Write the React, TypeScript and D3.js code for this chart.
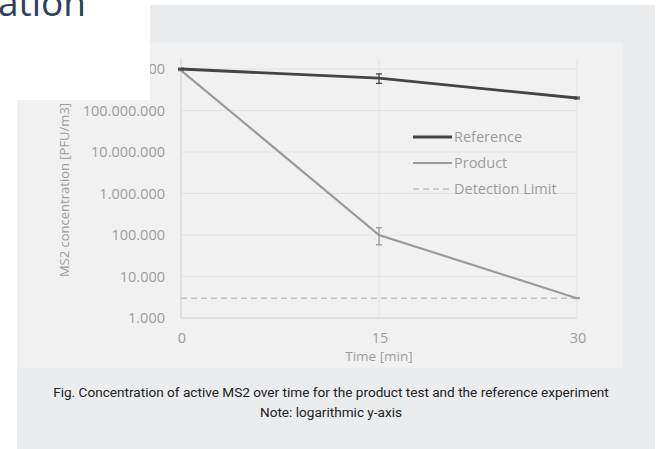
import React, { useEffect, useRef } from 'react'
import { select, scaleLinear, scaleLog, line, formatLocale } from 'd3'

// values
const times = [0, 15, 30]
const referenceValues = [1e9, 6e8, 2e8]
const referenceLow = [9.6e8, 4.5e8, 1.9e8]
const referenceHigh = [1.04e9, 7.6e8, 2.1e8]
const productValues = [9.3e8, 1e5, 3000]
const productLow = [9.1e8, 5.8e4, 2950]
const productHigh = [9.5e8, 1.5e5, 3050]
const detectionLimit = 3000
const yTicks = [1e3, 1e4, 1e5, 1e6, 1e7, 1e8, 1e9]
const xTicks = [0, 15, 30]
const legendLabels = ['Reference', 'Product', 'Detection Limit']

const W = 663, H = 449

function App() {
  const ref = useRef<SVGSVGElement>(null)

  useEffect(() => {
    const svg = select(ref.current)
    svg.selectAll('*').remove()

    const fmt = formatLocale({ decimal: ',', thousands: '.', grouping: [3], currency: ['', ''] }).format(',d')

    const x = scaleLinear().domain([0, 30]).range([181, 577])
    const y = scaleLog().domain([1000, 1e9]).range([318, 69])
    const top = 59
    const labelFont = 'Open Sans'
    const labelColor = '#9d9d9d'

    // panels
    svg.append('rect').attr('width', W).attr('height', H).attr('fill', '#ffffff')
    svg.append('rect').attr('x', 17).attr('y', 5).attr('width', 638).attr('height', H - 5).attr('fill', '#ebecee')
    svg.append('rect').attr('x', 17).attr('y', 43).attr('width', 606).attr('height', 325).attr('fill', '#f1f1f1')

    const g = svg.append('g')

    // grid
    g.selectAll('.hgrid').data(yTicks).enter().append('line')
      .attr('x1', x(0)).attr('x2', x(30))
      .attr('y1', d => y(d)).attr('y2', d => y(d))
      .style('stroke', '#e2e2e2').style('stroke-width', 1)
    g.selectAll('.vgrid').data(xTicks.slice(1)).enter().append('line')
      .attr('x1', d => x(d)).attr('x2', d => x(d))
      .attr('y1', top).attr('y2', y(1000))
      .style('stroke', '#e2e2e2').style('stroke-width', 1)

    // axes
    g.append('line').attr('x1', x(0)).attr('x2', x(0)).attr('y1', top).attr('y2', y(1000))
      .style('stroke', '#cfcfcf')
    g.append('line').attr('x1', x(0)).attr('x2', x(30)).attr('y1', y(1000)).attr('y2', y(1000))
      .style('stroke', '#d6d6d6')

    g.selectAll('.ylab').data(yTicks).enter().append('text')
      .attr('x', 165).attr('y', d => y(d)).attr('dy', '0.35em')
      .attr('text-anchor', 'end')
      .style('font-family', labelFont).style('font-size', '14.5px').style('fill', labelColor)
      .text(d => fmt(d))
    g.selectAll('.xlab').data(xTicks).enter().append('text')
      .attr('x', d => x(d) + 1).attr('y', 343)
      .attr('text-anchor', 'middle')
      .style('font-family', labelFont).style('font-size', '14.5px').style('fill', labelColor)
      .text(d => d)

    g.append('text').attr('x', x(15)).attr('y', 361).attr('text-anchor', 'middle')
      .style('font-family', labelFont).style('font-size', '13.5px').style('fill', labelColor)
      .text('Time [min]')
    g.append('text').attr('transform', 'translate(69,190) rotate(-90)').attr('text-anchor', 'middle')
      .style('font-family', labelFont).style('font-size', '13px').style('fill', labelColor)
      .text('MS2 concentration [PFU/m3]')

    // detection limit
    g.append('line').attr('x1', x(0)).attr('x2', x(30))
      .attr('y1', y(detectionLimit)).attr('y2', y(detectionLimit))
      .style('stroke', '#c4c4c4').style('stroke-width', 1.5).style('stroke-dasharray', '6,4')

    const mk = line<number>().x((_, i) => x(times[i])).y(d => y(d))

    const series = [
      { vals: productValues, lo: productLow, hi: productHigh, color: '#9a9a9a', w: 2.2 },
      { vals: referenceValues, lo: referenceLow, hi: referenceHigh, color: '#444444', w: 2.8 },
    ]
    series.forEach(s => {
      g.append('path').attr('d', mk(s.vals))
        .style('fill', 'none').style('stroke', s.color).style('stroke-width', s.w)
      const eb = g.append('g')
      times.forEach((t, i) => {
        eb.append('line').attr('x1', x(t)).attr('x2', x(t)).attr('y1', y(s.lo[i])).attr('y2', y(s.hi[i]))
          .style('stroke', s.color).style('stroke-width', 1.3)
        ;[s.lo[i], s.hi[i]].forEach(v => {
          eb.append('line').attr('x1', x(t) - 3).attr('x2', x(t) + 3).attr('y1', y(v)).attr('y2', y(v))
            .style('stroke', s.color).style('stroke-width', 1.3)
        })
      })
    })

    // legend
    const legendStyles = [
      { color: '#444444', w: 3, dash: null },
      { color: '#9a9a9a', w: 2, dash: null },
      { color: '#c4c4c4', w: 1.5, dash: '6,4' },
    ]
    const lg = g.append('g')
    legendLabels.forEach((lab, i) => {
      const ly = 137 + i * 26
      const l = lg.append('line').attr('x1', 413).attr('x2', 452).attr('y1', ly).attr('y2', ly)
        .style('stroke', legendStyles[i].color).style('stroke-width', legendStyles[i].w)
      if (legendStyles[i].dash) l.style('stroke-dasharray', legendStyles[i].dash)
      lg.append('text').attr('x', 454).attr('y', ly).attr('dy', '0.35em')
        .style('font-family', labelFont).style('font-size', '14.5px').style('fill', labelColor)
        .text(lab)
    })

    // white overlay covering the corner + title fragment
    svg.append('rect').attr('x', 0).attr('y', 0).attr('width', 150).attr('height', 100).attr('fill', '#ffffff')
    svg.append('text').attr('x', -2).attr('y', 16)
      .style('font-family', 'Open Sans').style('font-size', '37px').style('fill', '#2d3f5c')
      .text('ation')

    // caption
    svg.append('text').attr('x', 331).attr('y', 397).attr('text-anchor', 'middle')
      .style('font-family', 'Roboto').style('font-size', '13.6px').style('fill', '#222222')
      .text('Fig. Concentration of active MS2 over time for the product test and the reference experiment')
    svg.append('text').attr('x', 331).attr('y', 417).attr('text-anchor', 'middle')
      .style('font-family', 'Roboto').style('font-size', '13.6px').style('fill', '#222222')
      .text('Note: logarithmic y-axis')
  }, [])

  return (
    <svg ref={ref} width={W} height={H} style={{ position: 'absolute', left: 0, top: 0 }}></svg>
  )
}

export default App
